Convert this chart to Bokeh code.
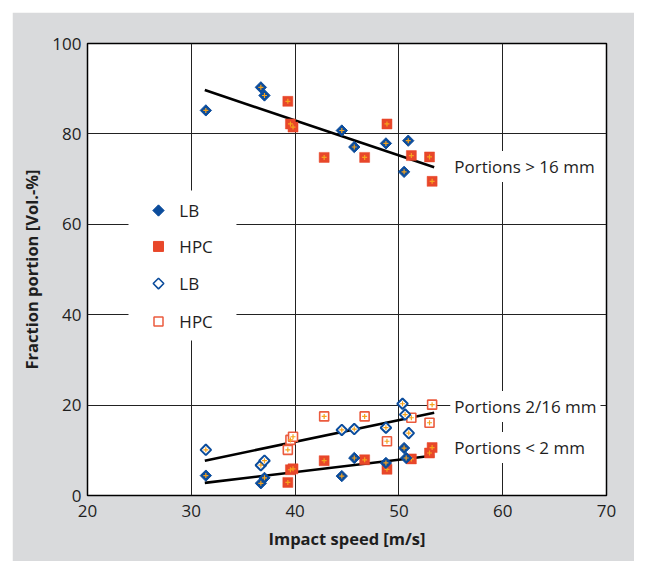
import math
from bokeh.plotting import figure
from bokeh.models import Range1d, SingleIntervalTicker, Label
from bokeh.embed import file_html
from bokeh.resources import INLINE

# Lightweight blocks (LB): impact speed and fraction portions
lb_speed_coarse = [31.4, 36.7, 37.05, 44.5, 45.7, 48.75, 50.9, 50.5]
lb_coarse = [85.2, 90.3, 88.5, 80.75, 77.1, 77.9, 78.5, 71.6]
lb_speed_medium = [31.4, 36.7, 37.05, 44.5, 45.7, 48.75, 50.35, 50.6, 50.95]
lb_medium = [10.1, 6.7, 7.7, 14.5, 14.7, 15.0, 20.3, 17.9, 13.8]
lb_speed_fine = [31.4, 36.7, 37.05, 44.5, 45.7, 48.75, 50.5, 50.7]
lb_fine = [4.4, 2.7, 3.9, 4.3, 8.3, 7.2, 10.5, 8.3]

# High performance concrete (HPC)
hpc_speed = [39.3, 39.55, 39.8, 42.8, 46.7, 48.85, 51.2, 52.95, 53.2]
hpc_coarse = [87.2, 82.2, 81.5, 74.8, 74.8, 82.2, 75.2, 74.9, 69.5]
hpc_medium = [10.1, 12.3, 13.0, 17.5, 17.5, 12.0, 17.2, 16.1, 20.1]
hpc_fine = [2.9, 5.7, 5.9, 7.7, 7.9, 5.8, 8.1, 9.4, 10.6]

# Trend lines (start/end)
trend_speed = [31.3, 53.4]
trend_coarse = [89.7, 72.6]
trend_medium = [7.7, 18.3]
trend_fine = [2.8, 8.85]

trend_labels = ["Portions > 16 mm", "Portions 2/16 mm", "Portions < 2 mm"]
legend_labels = ["LB", "HPC", "LB", "HPC"]

BLUE = "#0b4c9c"
RED = "#e8472a"
RED_LINE = "#eb5b3e"
DOT = "#f6a31c"
TEXT = "#1e1e1e"
FONT = "Open Sans"
FS = "17px"

p = figure(width=622, height=549, margin=(12, 12, 0, 12),
           x_range=Range1d(20, 70), y_range=Range1d(0, 100),
           output_backend="svg", toolbar_location=None,
           min_border_left=75, min_border_right=28,
           min_border_top=31, min_border_bottom=66)
p.border_fill_color = "#d9dadc"
p.background_fill_color = "white"
p.outline_line_color = "black"
p.outline_line_width = 1.5

p.xaxis.ticker = SingleIntervalTicker(interval=10)
p.yaxis.ticker = SingleIntervalTicker(interval=20)
for ax in (p.xaxis, p.yaxis):
    ax.axis_line_color = None
    ax.major_tick_in = 0
    ax.major_tick_out = 0
    ax.minor_tick_in = 0
    ax.minor_tick_out = 0
    ax.major_label_text_font = FONT
    ax.major_label_text_font_size = FS
    ax.major_label_text_color = TEXT
    ax.axis_label_text_font = FONT
    ax.axis_label_text_font_size = "16.5px"
    ax.axis_label_text_font_style = "bold"
    ax.axis_label_text_color = TEXT
p.xaxis.major_label_standoff = 9
p.yaxis.major_label_standoff = 6
p.xaxis.axis_label = "Impact speed [m/s]"
p.yaxis.axis_label = "Fraction portion [Vol.-%]"
p.xaxis.axis_label_standoff = 7
p.yaxis.axis_label_standoff = 6

for g in (p.xgrid, p.ygrid):
    g.grid_line_color = "#222222"
    g.grid_line_width = 1

# White box behind the legend
p.quad(left=[23.95], right=[34.35], bottom=[34.3], top=[67.5],
       fill_color="white", line_color=None)

# Trend lines
for ys in (trend_coarse, trend_medium, trend_fine):
    p.line(trend_speed, ys, line_color="black", line_width=2.6)

ang = math.pi / 4

def filled_lb(xs, ys):
    p.scatter(xs, ys, marker="square", angle=ang, size=8,
              fill_color=BLUE, line_color=BLUE, line_width=1)
    p.scatter(xs, ys, marker="cross", size=5, line_color=DOT, line_width=1.2)

def open_lb(xs, ys):
    p.scatter(xs, ys, marker="square", angle=ang, size=7.5,
              fill_color="white", line_color=BLUE, line_width=2)
    p.scatter(xs, ys, marker="cross", size=5, line_color=DOT, line_width=1.2)

def filled_hpc(xs, ys):
    p.scatter(xs, ys, marker="square", size=10,
              fill_color=RED, line_color=RED, line_width=0.5)
    p.scatter(xs, ys, marker="cross", size=5, line_color=DOT, line_width=1.2)

def open_hpc(xs, ys):
    p.scatter(xs, ys, marker="square", size=9,
              fill_color="white", line_color=RED_LINE, line_width=1.6)
    p.scatter(xs, ys, marker="cross", size=5, line_color=DOT, line_width=1.2)

open_hpc(hpc_speed, hpc_medium)
open_lb(lb_speed_medium, lb_medium)
filled_hpc(hpc_speed, hpc_fine)
filled_lb(lb_speed_fine, lb_fine)
filled_hpc(hpc_speed, hpc_coarse)
filled_lb(lb_speed_coarse, lb_coarse)

# Legend entries
leg_x = 26.84
leg_y = [63.05, 55.1, 46.9, 38.5]
p.scatter([leg_x], [leg_y[0]], marker="square", angle=ang, size=8,
          fill_color=BLUE, line_color=BLUE)
p.scatter([leg_x], [leg_y[1]], marker="square", size=10,
          fill_color=RED, line_color=RED)
p.scatter([leg_x], [leg_y[2]], marker="square", angle=ang, size=7.5,
          fill_color="white", line_color=BLUE, line_width=1.6)
p.scatter([leg_x], [leg_y[3]], marker="square", size=9,
          fill_color="white", line_color=RED_LINE, line_width=1.5)
for lbl, y in zip(legend_labels, leg_y):
    p.add_layout(Label(x=28.85, y=y, text=lbl, text_font=FONT,
                       text_font_size=FS, text_color=TEXT,
                       text_baseline="middle", text_align="left"))

# Trend line labels with white boxes
label_y = [72.8, 19.7, 10.6]
for lbl, y in zip(trend_labels, label_y):
    p.add_layout(Label(x=54.95, y=y, text=lbl, text_font=FONT,
                       text_font_size=FS, text_color=TEXT,
                       text_baseline="middle", text_align="left",
                       background_fill_color="white", padding=4))

open("out.html", "w").write(file_html(p, INLINE))
